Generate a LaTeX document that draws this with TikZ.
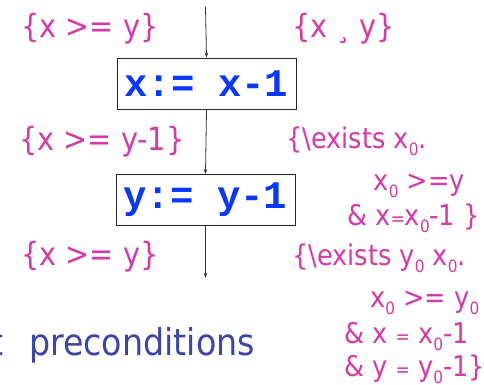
\documentclass[tikz,border=0pt]{standalone}
\usepackage{fontspec}
\setmainfont{DejaVu Sans Condensed}
\newfontfamily\codefont{Liberation Mono}
\usetikzlibrary{arrows.meta}
\definecolor{pinkc}{RGB}{214,57,168}
\definecolor{codeblue}{RGB}{10,55,255}
\definecolor{titleblue}{RGB}{60,70,170}
\newcommand{\zsub}[1]{\raisebox{-0.28em}{\fontsize{17}{17}\selectfont #1}}
\newcommand{\smeq}{{\fontsize{19}{19}\selectfont =}}
\begin{document}
\begin{tikzpicture}[x=1pt,y=-1pt,
  lefttext/.style={anchor=base west,inner sep=0pt,text=pinkc,font=\fontsize{32}{32}\selectfont},
  righttext/.style={anchor=base west,inner sep=0pt,text=pinkc,font=\fontsize{28.5}{28.5}\selectfont},
  codebox/.style={draw=black!85,line width=0.9pt,minimum width=179pt,minimum height=51pt,inner sep=0pt,text=codeblue,font=\codefont\bfseries\fontsize{39}{39}\selectfont},
  flow/.style={draw=black!80,line width=0.8pt,-{Stealth[length=5pt,width=3.5pt]}}]
\useasboundingbox (0,0) rectangle (484,385);
\fill[white] (0,0) rectangle (484,385);
\coordinate (start) at (205.5,7);
\node[codebox] (b1) at (206.5,83.5) {x:= x-1};
\node[codebox] (b2) at (205.5,200) {y:= y-1};
\coordinate (end) at (205.5,278);
\draw[flow] (start) -- (b1.north);
\draw[flow] (b1.south) -- (b2.north);
\draw[flow] (b2.south) -- (end);
\node[lefttext] (p1) at (21,38) {\{x >= y\}};
\node[lefttext] (p2) at (19,150) {\{x >= y-1\}};
\node[lefttext] (p3) at (21,265) {\{x >= y\}};
\node[lefttext] (r0) at (292,38) {\{x\hspace{9pt}¸\hspace{9pt}y\}};
\node[righttext] (r1) at (286,148) {\{\textbackslash exists x\zsub{0}.};
\node[righttext,anchor=base east] (r2) at (465,190) {x\zsub{0} >=y};
\node[righttext] (r3) at (347,225) {\& x\smeq x\zsub{0}-1 \}};
\node[righttext] (r4) at (292,265) {\{\textbackslash exists y\zsub{0} x\zsub{0}.};
\node[righttext] (r5) at (370,307) {x\zsub{0} >= y\zsub{0}};
\node[righttext] (r6) at (344,343) {\& x \smeq\ x\zsub{0}-1};
\node[righttext] (r7) at (344,376) {\& y \smeq\ y\zsub{0}-1\}};
\node[anchor=base east,inner sep=0pt,text=titleblue,font=\fontsize{37}{37}\selectfont] (title) at (255,355) {t\hspace{26pt}preconditions};
\end{tikzpicture}
\end{document}
